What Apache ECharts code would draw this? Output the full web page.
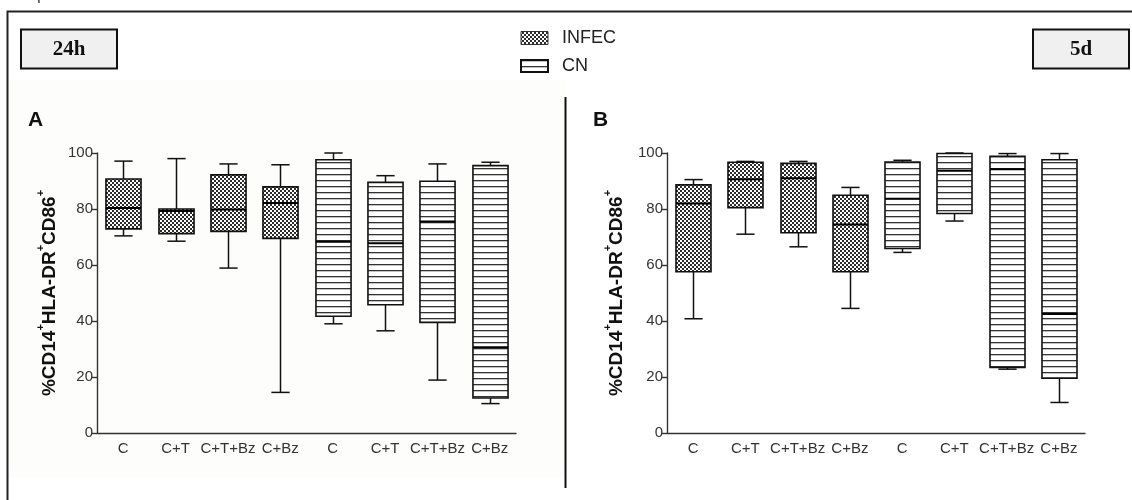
<!DOCTYPE html>
<html>
<head>
<meta charset="utf-8">
<script src="https://cdn.jsdelivr.net/npm/echarts@6/dist/echarts.min.js"></script>
<style>
html,body{margin:0;padding:0;background:#fff;}
#chart{width:1132px;height:500px;}
</style>
</head>
<body>
<div id="chart"></div>
<script>
// ---- data (five-number summaries: min, q1, median, q3, max) ----
const categories = ['C', 'C+T', 'C+T+Bz', 'C+Bz', 'C', 'C+T', 'C+T+Bz', 'C+Bz'];
const yTicks = [0, 20, 40, 60, 80, 100];
const seriesNames = ['INFEC', 'CN'];
const panelLabels = ['A', 'B'];
const timeLabels = ['24h', '5d'];
const yAxisTitle = '%CD14+HLA-DR+CD86+';

// Panel A (24h)
const infec24h = [
  [70.4, 72.9, 80.4, 90.7, 97.1],
  [68.5, 71.2, 79.3, 80.0, 98.0],
  [58.9, 72.0, 79.8, 92.2, 96.1],
  [14.5, 69.5, 82.1, 87.9, 95.8]
];
const cn24h = [
  [39.0, 41.7, 68.3, 97.6, 100.0],
  [36.5, 45.8, 67.8, 89.5, 91.9],
  [18.9, 39.5, 75.5, 89.9, 96.1],
  [10.5, 12.5, 30.6, 95.5, 96.7]
];
// Panel B (5d)
const infec5d = [
  [40.8, 57.6, 82.0, 88.6, 90.5],
  [71.0, 80.5, 90.6, 96.7, 97.0],
  [66.5, 71.5, 91.0, 96.3, 97.0],
  [44.5, 57.6, 74.5, 84.9, 87.7]
];
const cn5d = [
  [64.5, 65.9, 83.7, 96.8, 97.4],
  [75.7, 78.4, 93.7, 99.8, 100.0],
  [22.8, 23.4, 94.2, 98.8, 99.8],
  [10.9, 19.6, 42.5, 97.6, 99.8]
];

// ---- patterns ----
function checkerCanvas() {
  const c = document.createElement('canvas');
  c.width = 4; c.height = 4;
  const g = c.getContext('2d');
  g.fillStyle = '#2b2b2b'; g.fillRect(0, 0, 4, 4);
  g.fillStyle = '#ffffff';
  g.fillRect(0, 0, 2, 2);
  g.fillRect(2, 2, 2, 2);
  return c;
}
function stripeCanvas() {
  const c = document.createElement('canvas');
  c.width = 8; c.height = 6;
  const g = c.getContext('2d');
  g.fillStyle = '#ffffff'; g.fillRect(0, 0, 8, 6);
  g.fillStyle = '#333333'; g.fillRect(0, 0, 8, 1.3);
  return c;
}
const checkerFill = { image: checkerCanvas(), repeat: 'repeat' };
const stripeFill = { image: stripeCanvas(), repeat: 'repeat' };

function toRows(arr, offset) {
  return arr.map((v, i) => [i + offset].concat(v));
}

function makeRender(fill) {
  return function (params, api) {
    const x = api.value(0);
    const mn = api.coord([x, api.value(1)]);
    const q1 = api.coord([x, api.value(2)]);
    const md = api.coord([x, api.value(3)]);
    const q3 = api.coord([x, api.value(4)]);
    const mx = api.coord([x, api.value(5)]);
    const cw = api.size([1, 0])[0];
    const bw = cw * 0.67;
    const cap = bw * 0.52;
    const cx = Math.round(mn[0]) + 0.5;
    const lineStyle = { stroke: '#111', lineWidth: 1.5 };
    return {
      type: 'group',
      children: [
        { type: 'line', shape: { x1: cx, y1: mx[1], x2: cx, y2: q3[1] }, style: lineStyle },
        { type: 'line', shape: { x1: cx, y1: q1[1], x2: cx, y2: mn[1] }, style: lineStyle },
        { type: 'line', shape: { x1: cx - cap / 2, y1: mx[1], x2: cx + cap / 2, y2: mx[1] }, style: lineStyle },
        { type: 'line', shape: { x1: cx - cap / 2, y1: mn[1], x2: cx + cap / 2, y2: mn[1] }, style: lineStyle },
        { type: 'rect', shape: { x: cx - bw / 2, y: q3[1], width: bw, height: q1[1] - q3[1] },
          style: { fill: fill, stroke: '#111', lineWidth: 1.6 } },
        { type: 'line', shape: { x1: cx - bw / 2, y1: md[1], x2: cx + bw / 2, y2: md[1] },
          style: { stroke: '#000', lineWidth: 2 } }
      ]
    };
  };
}

const axisFont = 'Liberation Sans, Arial, sans-serif';

function xAxisCfg(gi) {
  return {
    type: 'category', gridIndex: gi, data: categories,
    axisLine: { lineStyle: { color: '#333', width: 1.4 } },
    axisTick: { alignWithLabel: true, length: 6, lineStyle: { color: '#333', width: 1.4 } },
    axisLabel: { interval: 0, color: '#333', fontSize: 15, fontFamily: axisFont, margin: 8 }
  };
}
function yAxisCfg(gi, gap) {
  return {
    type: 'value', gridIndex: gi, min: 0, max: 100, interval: 20,
    splitLine: { show: false },
    axisLine: { show: true, lineStyle: { color: '#333', width: 1.4 } },
    axisTick: { show: true, length: 6, lineStyle: { color: '#333', width: 1.4 } },
    axisLabel: { color: '#333', fontSize: 15, fontFamily: axisFont, margin: 4 },
    name: '{b|%CD14}{s|+}{b|HLA-DR}{s|+}{b|CD86}{s|+}',
    nameLocation: 'middle', nameRotate: 90, nameGap: gap,
    nameTextStyle: {
      rich: {
        b: { fontSize: 19, fontWeight: 'bold', fontFamily: axisFont, color: '#111', lineHeight: 24, verticalAlign: 'bottom' },
        s: { fontSize: 11, fontWeight: 'bold', fontFamily: axisFont, color: '#111', lineHeight: 24, verticalAlign: 'top' }
      }
    }
  };
}

const chart = echarts.init(document.getElementById('chart'), null, { renderer: 'canvas' });

const option = {
  backgroundColor: '#ffffff',
  animation: false,
  grid: [
    { left: 97, right: 616, top: 153, bottom: 67 },
    { left: 667, right: 47, top: 153, bottom: 67 }
  ],
  xAxis: [xAxisCfg(0), xAxisCfg(1)],
  yAxis: [yAxisCfg(0, 38), yAxisCfg(1, 41)],
  series: [
    { name: seriesNames[0], type: 'custom', xAxisIndex: 0, yAxisIndex: 0, renderItem: makeRender(checkerFill),
      encode: { x: 0, y: [1, 2, 3, 4, 5] }, data: toRows(infec24h, 0), z: 5 },
    { name: seriesNames[1], type: 'custom', xAxisIndex: 0, yAxisIndex: 0, renderItem: makeRender(stripeFill),
      encode: { x: 0, y: [1, 2, 3, 4, 5] }, data: toRows(cn24h, 4), z: 5 },
    { name: seriesNames[0], type: 'custom', xAxisIndex: 1, yAxisIndex: 1, renderItem: makeRender(checkerFill),
      encode: { x: 0, y: [1, 2, 3, 4, 5] }, data: toRows(infec5d, 0), z: 5 },
    { name: seriesNames[1], type: 'custom', xAxisIndex: 1, yAxisIndex: 1, renderItem: makeRender(stripeFill),
      encode: { x: 0, y: [1, 2, 3, 4, 5] }, data: toRows(cn5d, 4), z: 5 }
  ],
  graphic: [
    // panel A faint background
    { type: 'rect', z: -10, silent: true, shape: { x: 9, y: 80, width: 556, height: 397 }, style: { fill: '#fdfdfb' } },
    // outer frame
    { type: 'polyline', z: 10, silent: true, shape: { points: [[7.5, 520], [7.5, 11.5], [1140, 11.5]] },
      style: { stroke: '#222', lineWidth: 2, fill: null } },
    // cut-off caption at the very top
    { type: 'text', z: 10, silent: true, left: 2, top: -13,
      style: { text: 'Samples do infection CN', fontSize: 17, fontFamily: axisFont, fill: '#444' } },
    // divider
    { type: 'line', z: 10, silent: true, shape: { x1: 565.5, y1: 97, x2: 565.5, y2: 488 }, style: { stroke: '#111', lineWidth: 2 } },
    // time boxes
    { type: 'rect', z: 10, silent: true, shape: { x: 21, y: 29.5, width: 96, height: 39 }, style: { fill: '#f0f0f0', stroke: '#111', lineWidth: 2 } },
    { type: 'text', z: 11, silent: true, x: 69, y: 50,
      style: { text: timeLabels[0], fontSize: 21, fontWeight: 'bold', fontFamily: 'Liberation Serif, Times New Roman, serif', fill: '#111', align: 'center', verticalAlign: 'middle' } },
    { type: 'rect', z: 10, silent: true, shape: { x: 1033, y: 29.5, width: 96, height: 39 }, style: { fill: '#f0f0f0', stroke: '#111', lineWidth: 2 } },
    { type: 'text', z: 11, silent: true, x: 1081, y: 50,
      style: { text: timeLabels[1], fontSize: 21, fontWeight: 'bold', fontFamily: 'Liberation Serif, Times New Roman, serif', fill: '#111', align: 'center', verticalAlign: 'middle' } },
    // legend
    { type: 'rect', z: 10, silent: true, shape: { x: 521, y: 31.5, width: 27, height: 13 }, style: { fill: checkerFill, stroke: '#333', lineWidth: 1 } },
    { type: 'text', z: 10, silent: true, x: 562, y: 38,
      style: { text: seriesNames[0], fontSize: 18, fontFamily: axisFont, fill: '#222', verticalAlign: 'middle' } },
    { type: 'rect', z: 10, silent: true, shape: { x: 521, y: 60, width: 27, height: 12 }, style: { fill: stripeFill, stroke: '#111', lineWidth: 2 } },
    { type: 'text', z: 10, silent: true, x: 562, y: 66,
      style: { text: seriesNames[1], fontSize: 18, fontFamily: axisFont, fill: '#222', verticalAlign: 'middle' } },
    // panel letters
    { type: 'text', z: 10, silent: true, x: 28, y: 120,
      style: { text: panelLabels[0], fontSize: 21, fontWeight: 'bold', fontFamily: axisFont, fill: '#111', verticalAlign: 'middle' } },
    { type: 'text', z: 10, silent: true, x: 593, y: 120,
      style: { text: panelLabels[1], fontSize: 21, fontWeight: 'bold', fontFamily: axisFont, fill: '#111', verticalAlign: 'middle' } }
  ]
};
chart.setOption(option);
</script>
</body>
</html>
